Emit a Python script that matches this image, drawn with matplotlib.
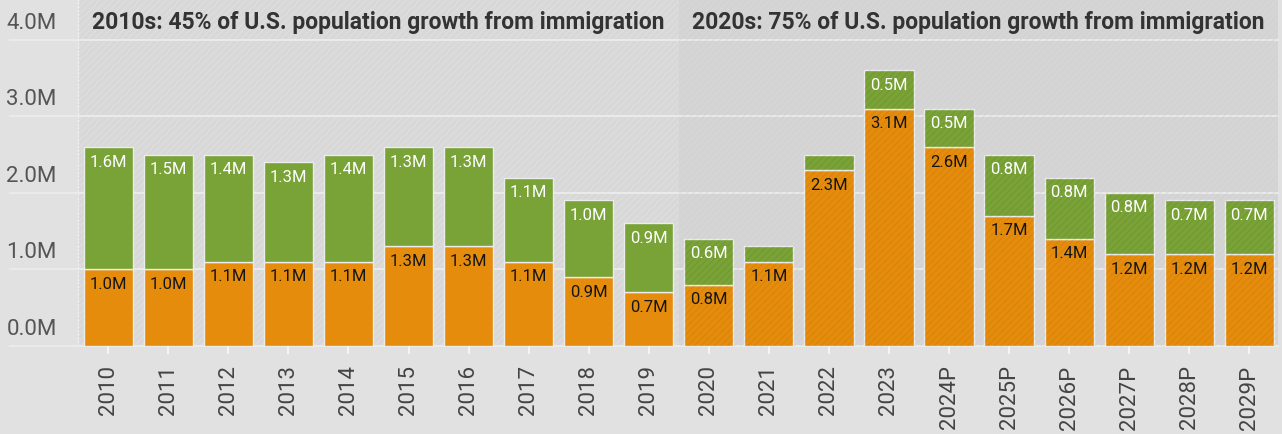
import numpy as np
import matplotlib.pyplot as plt
from matplotlib.transforms import blended_transform_factory

# Annual U.S. population growth split into immigration and natural increase (millions)
years = ['2010', '2011', '2012', '2013', '2014', '2015', '2016', '2017', '2018', '2019',
         '2020', '2021', '2022', '2023', '2024P', '2025P', '2026P', '2027P', '2028P', '2029P']
immigration = [1.0, 1.0, 1.1, 1.1, 1.1, 1.3, 1.3, 1.1, 0.9, 0.7,
               0.8, 1.1, 2.3, 3.1, 2.6, 1.7, 1.4, 1.2, 1.2, 1.2]
natural = [1.6, 1.5, 1.4, 1.3, 1.4, 1.3, 1.3, 1.1, 1.0, 0.9,
           0.6, 0.2, 0.2, 0.5, 0.5, 0.8, 0.8, 0.8, 0.7, 0.7]
y_ticks = [0, 1, 2, 3, 4]
decade_titles = ['2010s: 45% of U.S. population growth from immigration',
                 '2020s: 75% of U.S. population growth from immigration']

ORANGE = '#e68c0c'
GREEN = '#79a237'
BG = '#e1e1e1'

plt.rcParams['font.family'] = ['Roboto', 'DejaVu Sans']
plt.rcParams['hatch.linewidth'] = 0.7

fig = plt.figure(figsize=(12.82, 4.34), dpi=100, facecolor=BG)
ax = fig.add_axes([0.061, 0.203, 0.936, 0.797])
ax.set_facecolor('#d8d8d8')

x = np.arange(len(years))
ax.set_xlim(-0.5, 19.48)
ax.set_ylim(0, 4.52)

# hatched backgrounds for the two decades
split = 9.5
ax.axvspan(-0.5, split, facecolor='none', edgecolor='#e0e0e0', hatch='/////', lw=0, zorder=0)
ax.axvspan(split, 19.48, facecolor='#d5d5d5', edgecolor='#e2e2e2', hatch='/////', lw=0, zorder=0)

# gridlines reach under the y labels
for t in y_ticks:
    ax.axhline(t, xmin=-0.057, xmax=1, color='#ececec', lw=1.3, clip_on=False, zorder=1)

imm = np.array(immigration)
nat = np.array(natural)
ax.bar(x, imm, width=0.82, color=ORANGE, edgecolor='#ececec', lw=1.0, zorder=2)
ax.bar(x, nat, bottom=imm, width=0.82, color=GREEN, edgecolor='#ececec', lw=1.0, zorder=2)

# darker hatching laid over the 2020s
ax.axvspan(split, 19.48, facecolor='none', edgecolor=(0, 0, 0, 0.07), hatch='/////', lw=0, zorder=3)

for xi, a, b in zip(x, imm, nat):
    ax.annotate(f'{a:.1f}M', (xi, a), xytext=(0, -5.5), textcoords='offset points',
                ha='center', va='top', fontsize=12, color='#151515', zorder=4)
    if b >= 0.3:
        ax.annotate(f'{b:.1f}M', (xi, a + b), xytext=(0, -5.5), textcoords='offset points',
                    ha='center', va='top', fontsize=12, color='white', zorder=4)

# y labels sit above their gridlines, flush left
trans = blended_transform_factory(fig.transFigure, ax.transData)
for t in y_ticks:
    ax.text(0.005, t + 0.08, f'{t:.1f}M', transform=trans, ha='left', va='bottom',
            fontsize=16, color='#555555')
ax.set_yticks([])

ax.set_xticks(x)
ax.set_xticklabels(years, rotation=90, fontsize=16, color='#444444')
ax.tick_params(axis='x', length=6, width=1.5, color='#f4f4f4', pad=8)

for spine in ('top', 'right', 'bottom'):
    ax.spines[spine].set_visible(False)
ax.spines['left'].set_color('#efefef')
ax.spines['left'].set_linestyle(':')
ax.spines['left'].set_linewidth(1)

ax.text(4.5, 4.22, decade_titles[0], ha='center', va='center', fontsize=16.5,
        fontweight='bold', color='#333333', zorder=5)
ax.text(14.48, 4.22, decade_titles[1], ha='center', va='center', fontsize=16.5,
        fontweight='bold', color='#333333', zorder=5)

fig.savefig('out.png', dpi=100, facecolor=BG)
